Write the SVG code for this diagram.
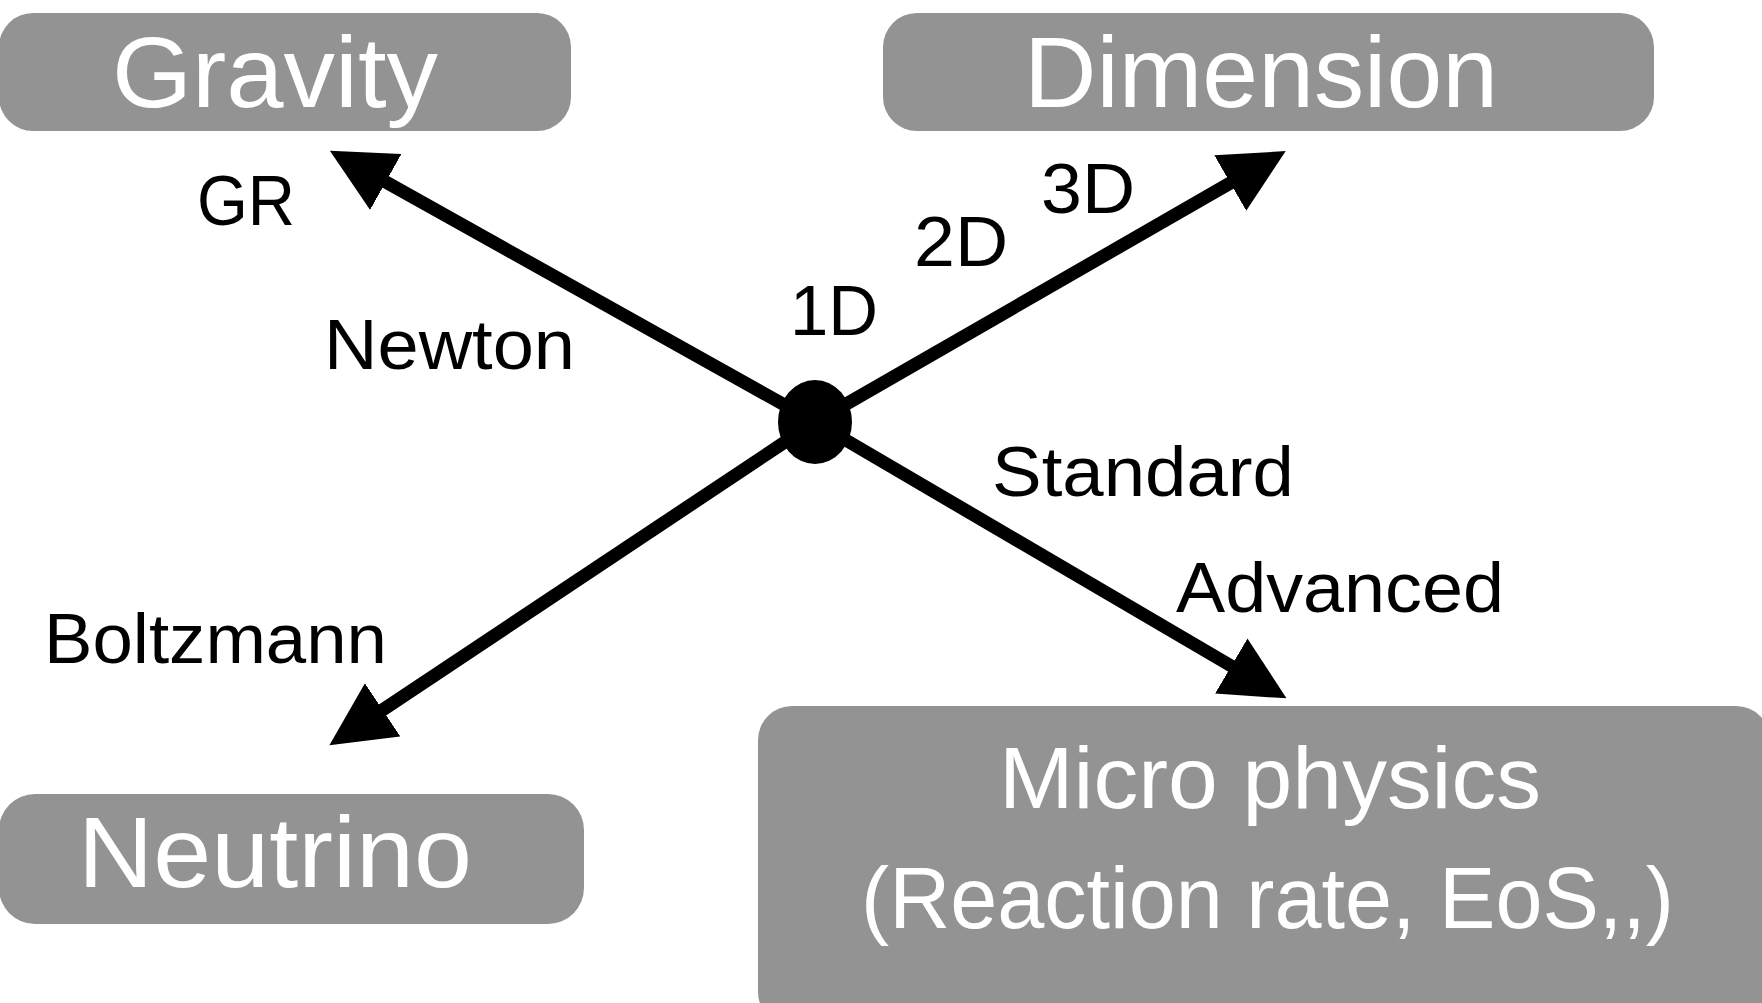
<svg xmlns="http://www.w3.org/2000/svg" width="1762" height="1003" viewBox="0 0 1762 1003">
<style>
.box{fill:#939393;}
.bt{fill:#ffffff;font-family:"Liberation Sans","Noto Sans",sans-serif;}
.lb{fill:#000000;font-family:"Liberation Sans","Noto Sans",sans-serif;font-size:70px;}
.ln{stroke:#000;stroke-width:13;fill:none;marker-end:url(#ah);}
</style>
<defs>
<marker id="ah" markerUnits="userSpaceOnUse" markerWidth="64" markerHeight="64" viewBox="0 0 64 64" refX="2" refY="32" orient="auto">
<path d="M0,0 L64,32 L0,64 Z" fill="#000"/>
</marker>
</defs>
<rect width="1762" height="1003" fill="#ffffff"/>
<g id="gravity">
<rect class="box" x="-1" y="13" width="572" height="118" rx="34"/>
<text class="bt" x="112" y="107" font-size="100" textLength="326" lengthAdjust="spacingAndGlyphs">Gravity</text>
</g>
<g id="dimension">
<rect class="box" x="883" y="13" width="771" height="118" rx="34"/>
<text class="bt" x="1024" y="107" font-size="100" textLength="474" lengthAdjust="spacingAndGlyphs">Dimension</text>
</g>
<g id="neutrino">
<rect class="box" x="-1" y="794" width="585" height="130" rx="36"/>
<text class="bt" x="78" y="887" font-size="100" textLength="394" lengthAdjust="spacingAndGlyphs">Neutrino</text>
</g>
<g id="microphysics">
<rect class="box" x="758" y="706" width="1012" height="320" rx="34"/>
<text class="bt" x="999" y="808" font-size="87" textLength="542" lengthAdjust="spacingAndGlyphs">Micro physics</text>
<text class="bt" x="861" y="928" font-size="87" textLength="813" lengthAdjust="spacingAndGlyphs">(Reaction rate, EoS,,)</text>
</g>
<g id="connectors">
<line class="ln" x1="815" y1="422" x2="384" y2="181"/>
<line class="ln" x1="815" y1="422" x2="1232" y2="182"/>
<line class="ln" x1="815" y1="422" x2="381" y2="711"/>
<line class="ln" x1="815" y1="422" x2="1233" y2="667"/>
</g>
<g id="center">
<ellipse cx="815" cy="422" rx="37" ry="42" fill="#000"/>
</g>
<g id="labels">
<text class="lb" x="197" y="225" textLength="98" lengthAdjust="spacingAndGlyphs">GR</text>
<text class="lb" x="324" y="369" textLength="251" lengthAdjust="spacingAndGlyphs">Newton</text>
<text class="lb" x="790" y="335" textLength="88" lengthAdjust="spacingAndGlyphs">1D</text>
<text class="lb" x="914" y="266" textLength="94" lengthAdjust="spacingAndGlyphs">2D</text>
<text class="lb" x="1041" y="213" textLength="94" lengthAdjust="spacingAndGlyphs">3D</text>
<text class="lb" x="992" y="496" textLength="302" lengthAdjust="spacingAndGlyphs">Standard</text>
<text class="lb" x="1176" y="612" textLength="328" lengthAdjust="spacingAndGlyphs">Advanced</text>
<text class="lb" x="44" y="663" textLength="343" lengthAdjust="spacingAndGlyphs">Boltzmann</text>
</g>
</svg>
